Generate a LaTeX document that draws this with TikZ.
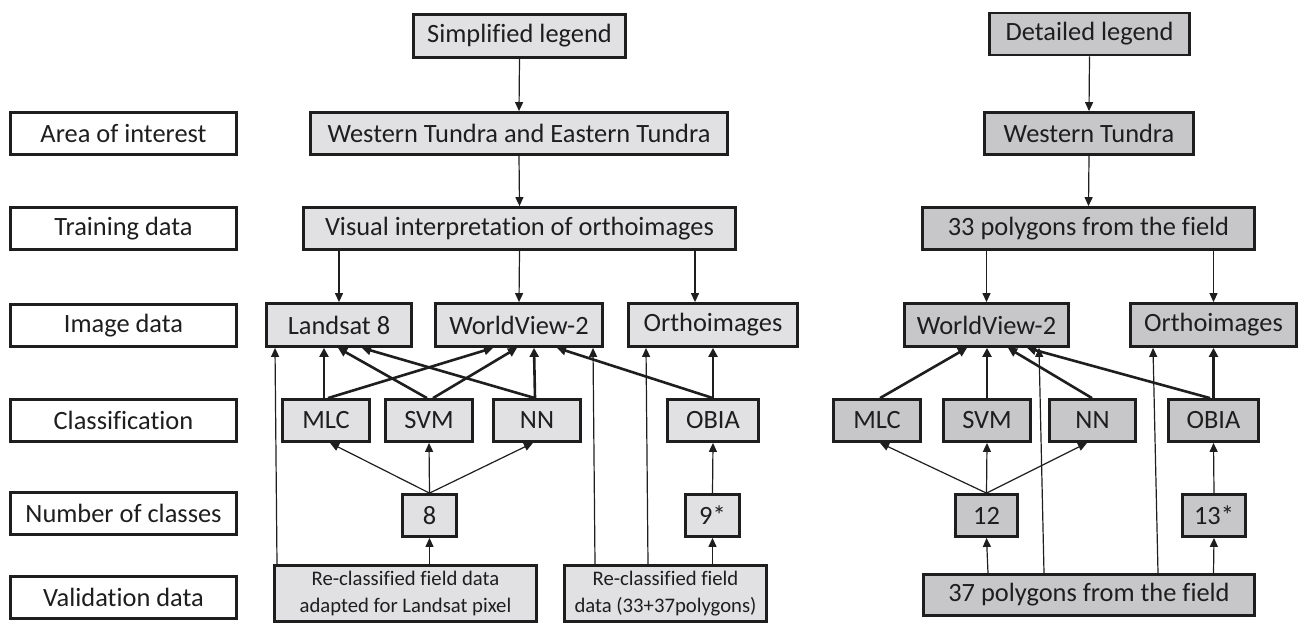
\documentclass[tikz,border=0pt]{standalone}
\usepackage{fontspec}
\setmainfont[Ligatures=CommonOff]{Carlito}
\usetikzlibrary{arrows.meta}
\definecolor{lightfill}{RGB}{225,225,227}
\definecolor{darkfill}{RGB}{199,199,201}
\definecolor{ink}{RGB}{30,30,30}
\begin{document}
\begin{tikzpicture}[x=1pt,y=-1pt,
  box/.style={draw=ink, line width=2.8pt, inner sep=0pt, text=ink, font=\fontsize{26.4}{30}\selectfont},
  lab/.style={box, fill=white, minimum width=226pt, minimum height=42pt},
  lbox/.style={box, fill=lightfill, minimum height=42pt},
  dbox/.style={box, fill=darkfill, minimum height=42pt},
  valbox/.style={box, fill=lightfill, align=center, font=\fontsize{20.7}{26.5}\selectfont},
  tharrow/.style={draw=ink, line width=1.2pt, -{Triangle[length=9pt,width=8pt]}},
  tkarrow/.style={draw=ink, line width=2.6pt, -{Triangle[length=9pt,width=9pt]}},
]
\useasboundingbox (0,0) rectangle (1314,626);

% left row labels
\node[lab] (l1) at (123.5,133.5) {Area of interest};
\node[lab] (l2) at (123.5,228.5) {Training data};
\node[lab] (l3) at (123.5,325.5) {Image data};
\node[lab] (l4) at (123.5,420.5) {Classification};
\node[lab] (l5) at (123.5,513.5) {Number of classes};
\node[lab] (l6) at (123.5,597.5) {Validation data};

% middle column
\node[lbox, minimum width=212pt, minimum height=43pt] (slegend) at (519.5,36) {Simplified legend};
\node[lbox, minimum width=417pt] (waoi) at (519,133.5) {Western Tundra and Eastern Tundra};
\node[lbox, minimum width=432pt] (visual) at (519.5,228.5) {Visual interpretation of orthoimages};
\node[lbox, minimum width=145pt, minimum height=43pt] (landsat) at (339,325) {Landsat 8};
\node[lbox, minimum width=167pt, minimum height=43pt] (wv2) at (519,325) {WorldView-2};
\node[lbox, minimum width=169pt, minimum height=43pt] (ortho) at (713,325) {Orthoimages};
\node[lbox, minimum width=87pt] (mlc) at (326,420.5) {MLC};
\node[lbox, minimum width=87pt] (svm) at (429,420.5) {SVM};
\node[lbox, minimum width=87pt] (nn) at (537,420.5) {NN};
\node[lbox, minimum width=91pt] (obia) at (713,420.5) {OBIA};
\node[lbox, minimum width=54pt] (n8) at (429.5,515.5) {8};
\node[lbox, minimum width=54pt] (n9) at (712.5,515.5) {9*};
\node[valbox, minimum width=262pt, minimum height=56pt] (val1) at (405.5,593.5) {Re-classified field data\\adapted for Landsat pixel};
\node[valbox, minimum width=202pt, minimum height=56pt] (val2) at (665.5,593.5) {Re-classified field\\data (33+37polygons)};

% right column
\node[dbox, minimum width=200pt] (dlegend) at (1089.5,34) {Detailed legend};
\node[dbox, minimum width=209pt] (wt) at (1089,133.5) {Western Tundra};
\node[dbox, minimum width=332pt] (p33) at (1088.5,228.5) {33 polygons from the field};
\node[dbox, minimum width=164pt, minimum height=43pt] (wv2r) at (986.5,325) {WorldView-2};
\node[dbox, minimum width=166pt, minimum height=43pt] (orthor) at (1213.5,325) {Orthoimages};
\node[dbox, minimum width=87pt] (mlcr) at (877,420.5) {MLC};
\node[dbox, minimum width=87pt] (svmr) at (987,420.5) {SVM};
\node[dbox, minimum width=86pt] (nnr) at (1092.5,420.5) {NN};
\node[dbox, minimum width=90pt] (obiar) at (1213.5,420.5) {OBIA};
\node[dbox, minimum width=62pt] (n12) at (986.5,515.5) {12};
\node[dbox, minimum width=63pt] (n13) at (1214,515.5) {13*};
\node[dbox, minimum width=331pt, minimum height=41pt] (p37) at (1089,595) {37 polygons from the field};

% middle thin connectors
\draw[tharrow] (slegend.south) -- (waoi.north);
\draw[tharrow] (waoi.south) -- (visual.north);
\draw[tharrow] ([xshift=-180.5pt]visual.south) -- (landsat.north);
\draw[tharrow] (visual.south) -- (wv2.north);
\draw[tharrow] ([xshift=175.5pt]visual.south) -- ([xshift=-18pt]ortho.north);

% middle thick connectors
\draw[tkarrow] ([xshift=-2pt]mlc.north) -- ([xshift=-15pt]landsat.south);
\draw[tkarrow] ([xshift=2pt]mlc.north) -- ([xshift=-26pt]wv2.south);
\draw[tkarrow] ([xshift=-2pt]svm.north) -- ([xshift=-1pt]landsat.south);
\draw[tkarrow] ([xshift=4pt]svm.north) -- ([xshift=-2pt]wv2.south);
\draw[tkarrow] ([xshift=-2pt]nn.north) -- ([xshift=23pt]landsat.south);
\draw[tkarrow] ([xshift=-2pt]nn.north) -- ([xshift=15pt]wv2.south);
\draw[tkarrow] (obia.north) -- ([xshift=38pt]wv2.south);
\draw[tkarrow] (obia.north) -- (ortho.south);

% middle lower thin connectors
\draw[tharrow] (n8.north) -- ([xshift=4pt]mlc.south);
\draw[tharrow] (n8.north) -- (svm.south);
\draw[tharrow] (n8.north) -- ([xshift=-4pt]nn.south);
\draw[tharrow] (n9.north) -- (obia.south);
\draw[tharrow] ([xshift=24pt]val1.north) -- (n8.south);
\draw[tharrow] ([xshift=-128.5pt]val1.north) -- ([xshift=-64pt]landsat.south);
\draw[tharrow] ([xshift=-70.5pt]val2.north) -- ([xshift=74pt]wv2.south);
\draw[tharrow] ([xshift=-17.5pt]val2.north) -- ([xshift=-67pt]ortho.south);
\draw[tharrow] ([xshift=47pt]val2.north) -- (n9.south);

% right thin connectors
\draw[tharrow] (dlegend.south) -- (wt.north);
\draw[tharrow] (wt.south) -- (p33.north);
\draw[tharrow] ([xshift=-102pt]p33.south) -- (wv2r.north);
\draw[tharrow] ([xshift=125pt]p33.south) -- (orthor.north);

% right thick connectors
\draw[tkarrow] ([xshift=3pt]mlcr.north) -- ([xshift=-19.5pt]wv2r.south);
\draw[tkarrow] (svmr.north) -- ([xshift=0.5pt]wv2r.south);
\draw[tkarrow] ([xshift=-0.5pt]nnr.north) -- ([xshift=21.5pt]wv2r.south);
\draw[tkarrow] ([xshift=-3.5pt]obiar.north) -- ([xshift=40.5pt]wv2r.south);
\draw[tkarrow] (obiar.north) -- (orthor.south);

% right lower thin connectors
\draw[tharrow] (n12.north) -- ([xshift=3pt]mlcr.south);
\draw[tharrow] (n12.north) -- (svmr.south);
\draw[tharrow] (n12.north) -- ([xshift=-5.5pt]nnr.south);
\draw[tharrow] (n13.north) -- (obiar.south);
\draw[tharrow] ([xshift=-101pt]p37.north) -- (n12.south);
\draw[tharrow] ([xshift=124.5pt]p37.north) -- (n13.south);
\draw[tharrow] ([xshift=-45pt]p37.north) -- ([xshift=52.5pt]wv2r.south);
\draw[tharrow] ([xshift=69pt]p37.north) -- ([xshift=-60.5pt]orthor.south);
\end{tikzpicture}
\end{document}
